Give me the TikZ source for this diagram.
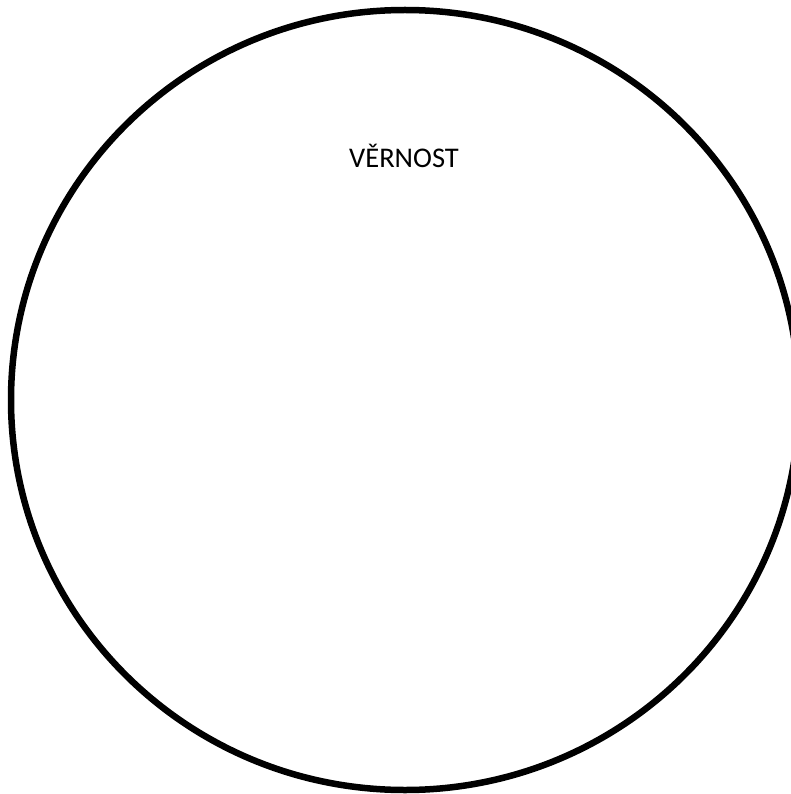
\documentclass[tikz,border=0pt]{standalone}
\usepackage{fontspec}
\setmainfont{Carlito}
\begin{document}
\begin{tikzpicture}[x=1pt,y=-1pt,
  outline/.style={draw=black,line width=6.5pt},
  label/.style={font=\fontsize{28.5}{34}\selectfont,inner sep=0pt,anchor=base}]
\useasboundingbox (0,0) rectangle (791,794);
\draw[outline] (405,400) ellipse [x radius=394, y radius=390];
\node[label] (title) at (404,168) {VĚRNOST};
\end{tikzpicture}
\end{document}
